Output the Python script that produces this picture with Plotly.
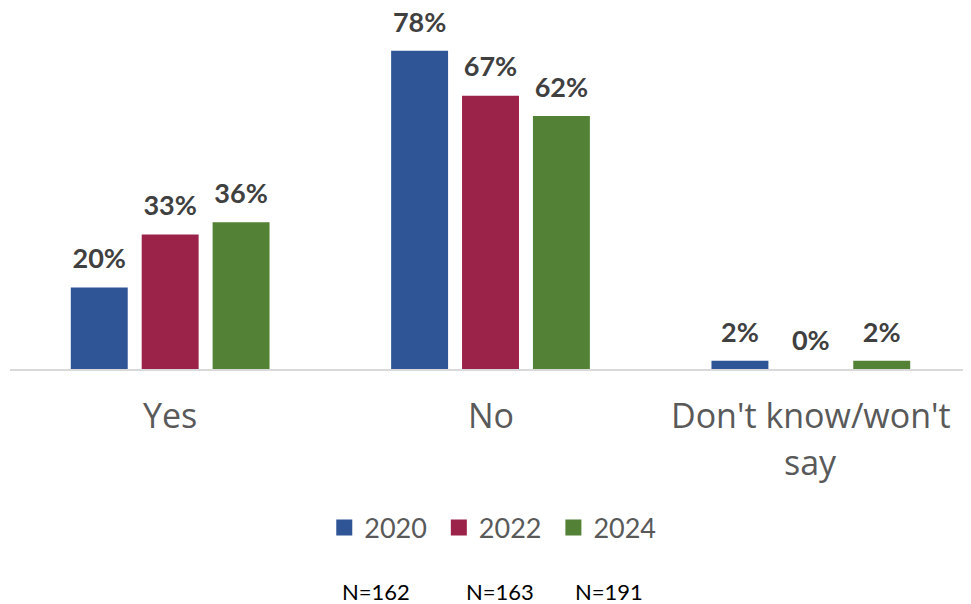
import plotly.graph_objects as go

categories = ["Yes", "No", "Don't know/won't say"]
cat_line1 = ["Yes", "No", "Don't know/won't"]
cat_line2 = ["", "", "say"]
years = ["2020", "2022", "2024"]
values = {
    "2020": [20, 78, 2],
    "2022": [33, 67, 0],
    "2024": [36, 62, 2],
}
colors = {"2020": "#2F5597", "2022": "#9B2248", "2024": "#538135"}
n_labels = ["N=162", "N=163", "N=191"]
n_label_x = [0.381, 0.510, 0.623]

FONT = "Lato"
CAT_FONT = "Open Sans"

fig = go.Figure()
for yr in years:
    fig.add_trace(go.Bar(
        x=categories, y=values[yr], name=yr,
        marker=dict(color=colors[yr], line=dict(width=0)),
        texttemplate="<span style='font-size:27px;font-weight:bold'>%{y}%</span><br>&nbsp;",
        textposition="outside",
        textfont=dict(family=FONT, size=11, color="#404040"),
        constraintext="none",
        cliponaxis=False,
        showlegend=False,
    ))
# legend entries with larger square swatches
for yr in years:
    fig.add_trace(go.Scatter(
        x=[None], y=[None], mode="markers", name=yr + "&nbsp;",
        marker=dict(symbol="square", size=17, color=colors[yr]),
        showlegend=True,
    ))

annotations = []
for c, l1, l2 in zip(categories, cat_line1, cat_line2):
    annotations.append(dict(x=c, xref="x", y=-0.127, yref="paper", text=l1,
                            showarrow=False, yanchor="middle",
                            font=dict(family=CAT_FONT, size=34, color="#595959")))
    if l2:
        annotations.append(dict(x=c, xref="x", y=-0.257, yref="paper", text=l2,
                                showarrow=False, yanchor="middle",
                                font=dict(family=CAT_FONT, size=34, color="#595959")))
for t, xp in zip(n_labels, n_label_x):
    annotations.append(dict(x=xp, xref="paper", y=-0.615, yref="paper",
                            text=t, showarrow=False, xanchor="center", yanchor="middle",
                            font=dict(family=FONT, size=22, color="#000000")))

# the page body adds an 8px margin, so the figure is 8px smaller than the window
fig.update_layout(
    width=963, height=596,
    margin=dict(l=2, r=0, t=0, b=235, autoexpand=False),
    paper_bgcolor="white", plot_bgcolor="white",
    barmode="group", bargap=0.336, bargroupgap=0.197,
    xaxis=dict(showticklabels=False, showline=True, linecolor="#D9D9D9", linewidth=2,
               ticks="", showgrid=False, automargin=False),
    yaxis=dict(range=[0, 88.5], visible=False, showgrid=False, automargin=False),
    legend=dict(orientation="h", x=0.506, xanchor="center", y=-0.440, yanchor="middle",
                font=dict(family=FONT, size=27, color="#595959"),
                itemwidth=30, itemsizing="trace", tracegroupgap=0),
    showlegend=True,
    annotations=annotations,
    font=dict(family=FONT),
)

fig.write_html("out.html")
